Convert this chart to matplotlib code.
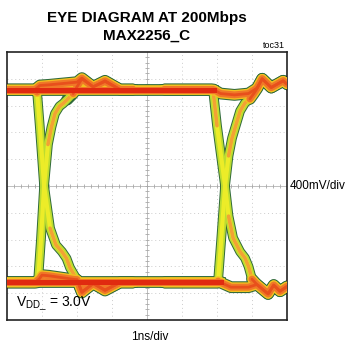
import numpy as np
import matplotlib
matplotlib.use("Agg")
import matplotlib.pyplot as plt
from matplotlib import font_manager

# ---- data (time in ns, voltage in mV) ----
t_hh_left = [0.0, 0.8, 0.94, 1.2, 1.6, 2.0, 2.14, 2.46, 2.8, 3.23, 3.6]
v_hh_left = [1440, 1440, 1500, 1510, 1530, 1550, 1610, 1480, 1570, 1440, 1440]

t_lh_left = [0.0, 0.8, 0.89, 0.97, 1.06, 1.17, 1.27, 1.37, 1.5, 1.6, 1.72, 1.89, 2.0, 2.14, 2.46, 2.8, 3.23, 3.6]
v_lh_left = [-1440, -1440, -1400, -800, 0, 620, 880, 1080, 1190, 1230, 1290, 1380, 1480, 1600, 1480, 1560, 1440, 1440]

t_hl_left = [0.0, 0.78, 0.86, 0.94, 1.06, 1.23, 1.4, 1.57, 1.7, 1.8, 2.0, 2.14, 2.46, 2.8, 3.23, 3.6]
v_hl_left = [1440, 1440, 1400, 870, 0, -630, -880, -980, -1080, -1220, -1400, -1580, -1460, -1550, -1440, -1440]

t_ll_left = [0.0, 0.85, 1.0, 1.2, 1.6, 2.0, 2.14, 2.46, 2.8, 3.23, 3.6]
v_ll_left = [-1440, -1440, -1330, -1340, -1370, -1400, -1590, -1450, -1560, -1440, -1440]

t_hh_right = [4.5, 5.9, 6.1, 6.5, 6.9, 7.14, 7.29, 7.55, 7.89, 8.0]
v_hh_right = [1440, 1440, 1380, 1360, 1380, 1460, 1600, 1470, 1570, 1520]

t_lh_right = [4.5, 6.0, 6.03, 6.12, 6.23, 6.33, 6.43, 6.66, 6.8, 6.94, 7.05, 7.14, 7.29, 7.55, 7.89, 8.0]
v_lh_right = [-1440, -1440, -1420, -800, 0, 450, 716, 1119, 1240, 1300, 1380, 1450, 1600, 1470, 1570, 1520]

t_hl_right = [4.5, 5.85, 5.89, 6.0, 6.23, 6.33, 6.46, 6.66, 6.8, 6.9, 7.0, 7.14, 7.46, 7.62, 7.8, 8.0]
v_hl_right = [1440, 1440, 1420, 900, 0, -450, -776, -980, -1075, -1200, -1390, -1470, -1610, -1480, -1570, -1500]

t_ll_right = [4.5, 6.1, 6.4, 6.9, 7.14, 7.46, 7.62, 7.8, 8.0]
v_ll_right = [-1440, -1440, -1510, -1510, -1470, -1610, -1480, -1570, -1500]

t_top = [0.0, 0.8, 3.23, 5.9]
v_top = [1440, 1440, 1440, 1440]
t_bot = [0.0, 0.8, 3.23, 6.1]
v_bot = [-1440, -1440, -1440, -1440]

title = "EYE DIAGRAM AT 200Mbps\nMAX2256_C"
x_label = "1ns/div"
y_label = "400mV/div"
note = "toc31"

traces = [
    (t_hh_left, v_hh_left), (t_lh_left, v_lh_left), (t_hl_left, v_hl_left), (t_ll_left, v_ll_left),
    (t_hh_right, v_hh_right), (t_lh_right, v_lh_right), (t_hl_right, v_hl_right), (t_ll_right, v_ll_right),
]
levels = [(t_top, v_top), (t_bot, v_bot)]

plt.rcParams['font.family'] = ['Liberation Sans', 'DejaVu Sans']
installed = {f.name for f in font_manager.fontManager.ttflist}
title_family = [f for f in ['Liberation Sans Narrow', 'DejaVu Sans Condensed'] if f in installed] + ['Liberation Sans']

fig = plt.figure(figsize=(3.52, 3.52), dpi=100)
ax = fig.add_axes([7/352, 1-320/352, 280/352, 268/352])
ax.set_xlim(0, 8)
ax.set_ylim(-2000, 2000)
ax.set_xticks([]); ax.set_yticks([])
for s in ax.spines.values():
    s.set_linewidth(1.2)
    s.set_color('#222222')

# grid
for x in range(1, 8):
    if x != 4:
        ax.axvline(x, color='#cccccc', lw=0.7, ls=(0, (1, 3)), zorder=0)
for y in range(-1600, 2000, 400):
    if y != 0:
        ax.axhline(y, color='#cccccc', lw=0.7, ls=(0, (1, 3)), zorder=0)
ax.axvline(4, color='#b4b4b4', lw=0.6, zorder=0)
ax.axhline(0, color='#b4b4b4', lw=0.6, zorder=0)
tx = np.arange(0.2, 8, 0.2)
ax.plot(tx, np.zeros_like(tx), ls='none', marker='|', ms=3, mew=0.6, color='#a8a8a8', zorder=0)
ty = np.arange(-1920, 2000, 80)
ax.plot(np.full_like(ty, 4.0, dtype=float), ty, ls='none', marker='_', ms=3, mew=0.6, color='#a8a8a8', zorder=0)

def arr(t, v):
    return np.asarray(t, float), np.asarray(v, float)

# outline + body of every trace
for t, v in traces + levels:
    t, v = arr(t, v)
    ax.plot(t, v, color='#2f6a3a', lw=7.0, solid_joinstyle='round', zorder=2)
for t, v in traces + levels:
    t, v = arr(t, v)
    vm = np.ma.masked_where(np.abs(v) < 1250, v)
    ax.plot(t, vm, color='#2f6a3a', lw=8.5, solid_joinstyle='round', solid_capstyle='round', zorder=2)
for t, v in traces + levels:
    t, v = arr(t, v)
    ax.plot(t, v, color='#bcdc30', lw=5.6, solid_joinstyle='round', zorder=3)
for t, v in traces + levels:
    t, v = arr(t, v)
    ax.plot(t, v, color='#ecec28', lw=3.0, solid_joinstyle='round', zorder=4)
# slow tails: orange core
for t, v in traces:
    t, v = arr(t, v)
    slope = np.abs(np.gradient(v, t))
    vm = np.ma.masked_where((slope > 5000) | (np.abs(v) < 400), v)
    ax.plot(t, vm, color='#f2a234', lw=2.6, solid_joinstyle='round', solid_capstyle='round', zorder=5)
# level bands
for t, v in traces + levels:
    t, v = arr(t, v)
    vm = np.ma.masked_where(np.abs(v) < 1300, v)
    ax.plot(t, vm, color='#f2c020', lw=7.0, solid_joinstyle='round', solid_capstyle='round', zorder=6)
for t, v in traces + levels:
    t, v = arr(t, v)
    vm = np.ma.masked_where(np.abs(v) < 1300, v)
    ax.plot(t, vm, color='#f07828', lw=5.0, solid_joinstyle='round', solid_capstyle='round', zorder=7)
for t, v in traces + levels:
    t, v = arr(t, v)
    vm = np.ma.masked_where(np.abs(v) < 1300, v)
    ax.plot(t, vm, color='#e8501c', lw=2.0, solid_joinstyle='round', solid_capstyle='round', zorder=8)
for t, v in levels:
    ax.plot(t, v, color='#e02a10', lw=3.6, zorder=9)

ax.text(0.032, 0.025, r'V$_{\mathregular{DD\_}}$ = 3.0V', transform=ax.transAxes,
        fontsize=10, ha='left', va='bottom', zorder=10)

fig.text(147/352, 1-27/352, title, ha='center', va='center', fontsize=11,
         fontweight='bold', family=title_family, linespacing=1.35)
fig.text(285/352, 1-45/352, note, ha='right', va='center', fontsize=6.5)
fig.text(290/352, 1-186/352, y_label, ha='left', va='center', fontsize=8.5)
fig.text(150/352, 1-337/352, x_label, ha='center', va='center', fontsize=8.5)

fig.savefig('out.png', dpi=100)
